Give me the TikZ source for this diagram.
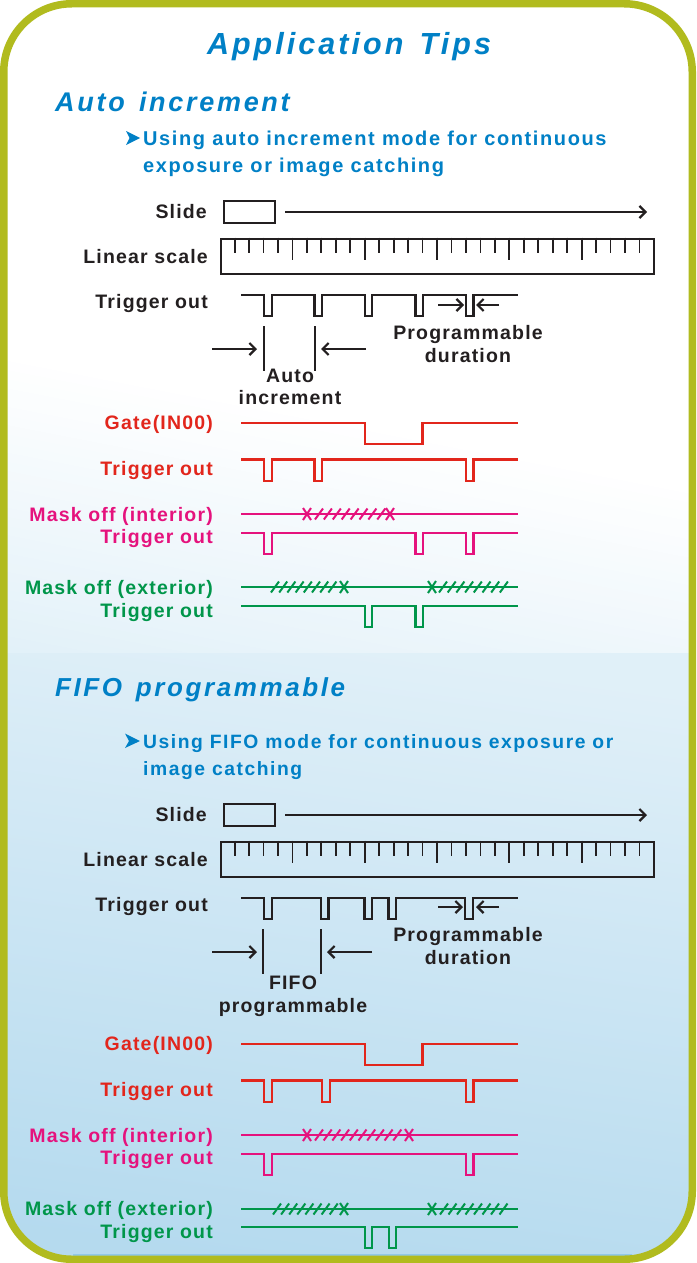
\documentclass[tikz,border=0pt]{standalone}
\usepackage{fontspec}
\usetikzlibrary{arrows.meta}
\setmainfont{Liberation Sans}
\newfontfamily\labelfont[LetterSpace=6]{Liberation Sans}
\newfontfamily\bodyfont[LetterSpace=8]{Liberation Sans}
\newfontfamily\headfont[LetterSpace=10,WordSpace=1.4]{Liberation Sans}
\definecolor{ink}{HTML}{231F20}
\definecolor{tipblue}{HTML}{0080C6}
\definecolor{framegreen}{HTML}{B1BB1E}
\definecolor{gatered}{HTML}{E2261C}
\definecolor{maskpink}{HTML}{E5127D}
\definecolor{extgreen}{HTML}{00964A}
\tikzset{
	lab/.style={font=\labelfont\bfseries\fontsize{19.5}{21}\selectfont, inner sep=0pt, anchor=base east},
	midlab/.style={font=\labelfont\bfseries\fontsize{19.5}{21}\selectfont, inner sep=0pt, anchor=base, text=ink},
	head/.style={font=\headfont\bfseries\itshape\fontsize{27}{30}\selectfont, inner sep=0pt, anchor=base west, text=tipblue},
	body/.style={font=\bodyfont\bfseries\fontsize{20}{22}\selectfont, inner sep=0pt, anchor=base west, text=tipblue},
	wave/.style={line width=2.5pt, line join=miter},
	tick/.style={line width=1.8pt, draw=ink},
	hatch/.style={line width=2pt},
	gaparrow/.style={line width=2.2pt, draw=ink, -{Straight Barb[length=6pt,width=12pt]}},
	gapbar/.style={line width=2pt, draw=ink},
	slidebox/.style={draw=ink, line width=2pt, minimum width=51pt, minimum height=22pt, inner sep=0pt},
	scalebox/.style={draw=ink, line width=2.2pt, minimum width=432.5pt, minimum height=35.5pt, inner sep=0pt, anchor=north west},
	notch/.style={fill=tipblue, draw=none}
}
% slashes along a mask line: {colour}{first x}{step}{count-1}{y}
\newcommand{\maskhatch}[5]{
	\foreach \i in {0,...,#4}{
		\draw[hatch,#1] ({#2+\i*#3-4},#5+5.5) -- ({#2+\i*#3+4},#5-5.5);
	}
}
\newcommand{\maskcross}[3]{
	\draw[hatch,#1] (#2-4,#3-6) -- (#2+4,#3+6);
	\draw[hatch,#1] (#2-4,#3+6) -- (#2+4,#3-6);
}
% ticks under the top side of a linear scale
\newcommand{\scaleticks}[1]{
	\foreach \i in {0,...,28}{
		\pgfmathsetmacro{\ticklen}{int(mod(\i,5))==4 ? 22 : 15.5}
		\draw[tick] ({234.6+\i*14.46},#1) -- ++(0,\ticklen);
	}
}
\begin{document}
\begin{tikzpicture}[x=1pt,y=-1pt]
	\useasboundingbox (0,0) rectangle (696,1263);
	%% background
	\begin{scope}
		\clip[rounded corners=68pt] (3,3) rectangle (693,1260);
		\fill[white] (0,0) rectangle (696,653);
		\begin{scope}
			\clip (0,0) rectangle (696,653);
			\foreach \i in {1,...,40}{
				\pgfmathsetmacro{\tintval}{\i*0.35}
				\fill[tipblue!\tintval!white, rotate around={-11:(348,500)}] (-200,420+\i*9) rectangle (900,900);
			}
		\end{scope}
		\shade[top color=tipblue!12!white, bottom color=tipblue!29!white, shading angle=-8] (0,653) rectangle (696,1263);
		\fill[tipblue!43!white] (73,1254) rectangle (632,1260);
	\end{scope}
	\draw[framegreen, line width=7.5pt, rounded corners=68pt] (3.75,3.75) rectangle (692.25,1259.25);

	%% title
	\node[head, font=\headfont\bfseries\itshape\fontsize{30.5}{32}\selectfont, anchor=base] (title) at (349,55) {Application Tips};

	%% Auto increment
	\node[head] (autohead) at (55,111) {Auto increment};
	\fill[notch] (126,131) -- (140,138) -- (126,145) -- (129.5,138) -- cycle;
	\node[body] (autotxta) at (143,145) {Using auto increment mode for continuous};
	\node[body] (autotxtb) at (143,172.5) {exposure or image catching};

	\node[lab,text=ink] (aslidel) at (207,218.5) {Slide};
	\node[slidebox] (aslide) at (249.5,212) {};
	\coordinate (aslidee) at (647,212);
	\draw[gaparrow] ([xshift=9pt]aslide.east) -- (aslidee);
	\node[lab,text=ink] (ascalel) at (208,263) {Linear scale};
	\node[scalebox] (ascale) at (220,237.5) {};
	\scaleticks{237.5}

	\node[lab,text=ink] (atrigl) at (208,308) {Trigger out};
	\draw[wave,ink] (241,295) -| (264,316) -| (272,295) -| (314.5,316) -| (322,295) -| (365,316) -| (372,295) -| (415.5,316) -| (423,295) -| (466,316) -| (473.5,295) -- (518,295);
	\coordinate (apl) at (438,305);
	\coordinate (apr) at (499,305);
	\coordinate (aplt) at (464,305);
	\coordinate (aprt) at (476,305);
	\draw[gaparrow] (apl) -- (aplt);
	\draw[gaparrow] (apr) -- (aprt);
	\node[midlab] (aprog) at (468,339) {Programmable};
	\node[midlab] (adur) at (468,362) {duration};
	\coordinate (aba) at (264,326);
	\coordinate (abb) at (264,371);
	\coordinate (abc) at (315,326);
	\coordinate (abd) at (315,371);
	\draw[gapbar] (aba) -- (abb);
	\draw[gapbar] (abc) -- (abd);
	\coordinate (ail) at (212,349);
	\coordinate (ailt) at (257,349);
	\coordinate (air) at (366,349);
	\coordinate (airt) at (321,349);
	\draw[gaparrow] (ail) -- (ailt);
	\draw[gaparrow] (air) -- (airt);
	\node[midlab] (aauto) at (290,382) {Auto};
	\node[midlab] (ainc) at (290,404) {increment};

	\node[lab,text=gatered] (agatel) at (213,429.5) {Gate(IN00)};
	\draw[wave,gatered] (241,423) -| (365,444) -| (422.5,423) -- (518,423);
	\node[lab,text=gatered] (artrigl) at (213,475) {Trigger out};
	\draw[wave,gatered] (241,459.5) -| (264,481) -| (272,459.5) -| (314.5,481) -| (322,459.5) -| (466,481) -| (473.5,459.5) -- (518,459.5);

	\node[lab,text=maskpink] (amintl) at (213,521) {Mask off (interior)};
	\draw[wave,maskpink] (241,514) -- (518,514);
	\maskcross{maskpink}{307}{514}
	\maskhatch{maskpink}{319}{8.9}{7}{514}
	\maskcross{maskpink}{390}{514}
	\node[lab,text=maskpink] (aptrigl) at (213,543) {Trigger out};
	\draw[wave,maskpink] (241,533) -| (264,554) -| (272,533) -| (415.5,554) -| (423,533) -| (466,554) -| (473.5,533) -- (518,533);

	\node[lab,text=extgreen] (amextl) at (213,594) {Mask off (exterior)};
	\draw[wave,extgreen] (241,587) -- (518,587);
	\maskhatch{extgreen}{275}{8.2}{7}{587}
	\maskcross{extgreen}{344}{587}
	\maskcross{extgreen}{432}{587}
	\maskhatch{extgreen}{443}{8.7}{7}{587}
	\node[lab,text=extgreen] (agtrigl) at (213,617) {Trigger out};
	\draw[wave,extgreen] (241,606) -| (365,627) -| (372,606) -| (415.5,627) -| (423,606) -- (518,606);

	%% FIFO programmable
	\node[head, font=\headfont\bfseries\itshape\fontsize{26}{29}\selectfont] (fifohead) at (55,696) {FIFO programmable};
	\fill[notch] (125,733.5) -- (140,741) -- (125,748) -- (129,741) -- cycle;
	\node[body, font=\bodyfont\bfseries\fontsize{19.3}{22}\selectfont] (fifotxta) at (143,748) {Using FIFO mode for continuous exposure or};
	\node[body, font=\bodyfont\bfseries\fontsize{19.3}{22}\selectfont] (fifotxtb) at (143,775) {image catching};

	\node[lab,text=ink] (fslidel) at (207,821) {Slide};
	\node[slidebox] (fslide) at (249.5,815) {};
	\coordinate (fslidee) at (647,815);
	\draw[gaparrow] ([xshift=9pt]fslide.east) -- (fslidee);
	\node[lab,text=ink] (fscalel) at (208,866) {Linear scale};
	\node[scalebox] (fscale) at (220,840.5) {};
	\scaleticks{840.5}

	\node[lab,text=ink] (ftrigl) at (208,911) {Trigger out};
	\draw[wave,ink] (241,898) -| (264,919) -| (272,898) -| (321,919) -| (328.5,898) -| (364.5,919) -| (372,898) -| (388.5,919) -| (396,898) -| (465,919) -| (473,898) -- (518,898);
	\coordinate (fpl) at (438,907);
	\coordinate (fpr) at (499,907);
	\coordinate (fplt) at (463,907);
	\coordinate (fprt) at (476,907);
	\draw[gaparrow] (fpl) -- (fplt);
	\draw[gaparrow] (fpr) -- (fprt);
	\node[midlab] (fprog) at (468,941) {Programmable};
	\node[midlab] (fdur) at (468,964) {duration};
	\coordinate (fba) at (263,929);
	\coordinate (fbb) at (263,974);
	\coordinate (fbc) at (321,929);
	\coordinate (fbd) at (321,974);
	\draw[gapbar] (fba) -- (fbb);
	\draw[gapbar] (fbc) -- (fbd);
	\coordinate (fil) at (212,952);
	\coordinate (filt) at (257,952);
	\coordinate (fir) at (372,952);
	\coordinate (firt) at (327,952);
	\draw[gaparrow] (fil) -- (filt);
	\draw[gaparrow] (fir) -- (firt);
	\node[midlab] (ffifo) at (293,989) {FIFO};
	\node[midlab] (fprg) at (293,1012) {programmable};

	\node[lab,text=gatered] (fgatel) at (213,1050) {Gate(IN00)};
	\draw[wave,gatered] (241,1044) -| (365,1065) -| (422.5,1044) -- (518,1044);
	\node[lab,text=gatered] (frtrigl) at (213,1096) {Trigger out};
	\draw[wave,gatered] (241,1080.5) -| (264,1102) -| (272,1080.5) -| (322,1102) -| (330,1080.5) -| (466,1102) -| (473.5,1080.5) -- (518,1080.5);

	\node[lab,text=maskpink] (fmintl) at (213,1142) {Mask off (interior)};
	\draw[wave,maskpink] (241,1135) -- (518,1135);
	\maskcross{maskpink}{307}{1135}
	\maskhatch{maskpink}{319}{8.7}{9}{1135}
	\maskcross{maskpink}{409}{1135}
	\node[lab,text=maskpink] (fptrigl) at (213,1164) {Trigger out};
	\draw[wave,maskpink] (241,1154) -| (264,1175) -| (272,1154) -| (466,1175) -| (473.5,1154) -- (518,1154);

	\node[lab,text=extgreen] (fmextl) at (213,1215) {Mask off (exterior)};
	\draw[wave,extgreen] (241,1209) -- (518,1209);
	\maskhatch{extgreen}{277}{8.1}{7}{1209}
	\maskcross{extgreen}{344}{1209}
	\maskcross{extgreen}{432}{1209}
	\maskhatch{extgreen}{444}{8.5}{7}{1209}
	\node[lab,text=extgreen] (fgtrigl) at (213,1238) {Trigger out};
	\draw[wave,extgreen] (241,1227) -| (365,1248) -| (372,1227) -| (389,1248) -| (396,1227) -- (518,1227);
\end{tikzpicture}
\end{document}
